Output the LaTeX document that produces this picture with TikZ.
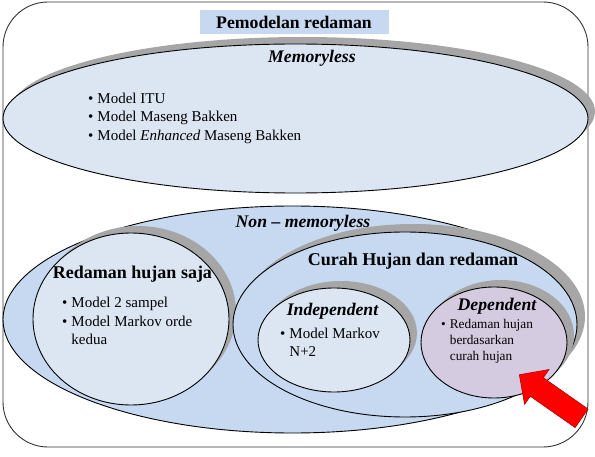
\documentclass[tikz,border=0pt]{standalone}
\usepackage{fontspec}
\setmainfont{Liberation Serif}
\usetikzlibrary{shapes.geometric, shapes.arrows, shadows, positioning}
\definecolor{memfill}{HTML}{DCE6F2}
\definecolor{nonfill}{HTML}{C6D9F1}
\definecolor{depfill}{HTML}{D5CBE0}
\definecolor{shadegray}{HTML}{A6A6A6}
\definecolor{arrowred}{HTML}{FF0000}
\definecolor{arrowedge}{HTML}{B00000}

\begin{document}
\begin{tikzpicture}[x=1pt, y=1pt,
  outerframe/.style={rectangle, draw=black!80, line width=0.9pt, rounded corners=45pt, minimum width=585pt, minimum height=445pt, inner sep=0pt},
  titlebox/.style={rectangle, fill=nonfill, minimum width=189pt, minimum height=24pt, inner sep=0pt, font=\fontsize{17.7}{20}\selectfont\bfseries},
  region/.style={ellipse, draw=black, line width=0.9pt, inner sep=0pt},
  castshadow/.style={drop shadow={shadow xshift=#1, shadow yshift=#1, fill=shadegray, opacity=1}},
  castshadow/.default=7pt,
  boldhead/.style={inner sep=0pt, font=\fontsize{18}{20}\selectfont\bfseries},
  italichead/.style={inner sep=0pt, font=\fontsize{17.7}{20}\selectfont\bfseries\itshape},
  itemtext/.style={inner sep=0pt, align=left, anchor=west, font=\fontsize{15}{18.5}\selectfont},
  smalltext/.style={inner sep=0pt, align=left, anchor=west, font=\fontsize{13.3}{16}\selectfont},
  redarrow/.style={single arrow, fill=arrowred, draw=arrowedge, line width=0.6pt, inner sep=0pt, minimum height=76pt, single arrow head extend=10pt}
]
  \useasboundingbox (0,0) rectangle (595,456);

  \node[outerframe] (frame) at (295.5,231.5) {};
  \node[titlebox] (title) at (294,434) {Pemodelan redaman};

  \node[region, castshadow, fill=memfill, minimum width=585pt, minimum height=149pt] (mem) at (295.5,337.5) {};
  \node[italichead] (memlabel) at (312,398) {Memoryless};
  \node[itemtext] (memitems) at (88,338) {\textbullet\hspace{4pt}Model ITU\\ \textbullet\hspace{4pt}Model Maseng Bakken\\ \textbullet\hspace{4pt}Model \textit{Enhanced} Maseng Bakken};

  \node[region, fill=nonfill, minimum width=579pt, minimum height=227pt] (nonmem) at (292.5,136.5) {};
  \node[italichead] (nonmemlabel) at (303,233) {Non – memoryless};

  \node[region, castshadow, fill=memfill, minimum width=196pt, minimum height=172pt] (rainonly) at (131,137) {};
  \node[boldhead] (rainonlylabel) at (132.5,182) {Redaman hujan saja};
  \node[itemtext] (rainonlyitems) at (62,135) {\textbullet\hspace{4pt}Model 2 sampel\\ \textbullet\hspace{4pt}Model Markov orde\\ \phantom{\textbullet}\hspace{4pt}kedua};

  \node[region, castshadow=8pt, fill=nonfill, minimum width=344pt, minimum height=185pt] (rainatt) at (405,131.5) {};
  \node[boldhead] (rainattlabel) at (413,195) {Curah Hujan dan redaman};

  \node[region, castshadow, fill=memfill, minimum width=152pt, minimum height=104pt] (indep) at (334,116) {};
  \node[italichead] (indeplabel) at (332.5,145) {Independent};
  \node[itemtext] (indepitems) at (280,113.5) {\textbullet\hspace{4pt}Model Markov\\ \phantom{\textbullet}\hspace{4pt}N+2};

  \node[region, castshadow, fill=depfill, minimum width=146pt, minimum height=111pt] (dep) at (494,113.5) {};
  \node[italichead] (deplabel) at (497,150) {Dependent};
  \node[smalltext] (depitems) at (441,115) {\textbullet\hspace{4pt}Redaman hujan\\ \phantom{\textbullet}\hspace{4pt}berdasarkan\\ \phantom{\textbullet}\hspace{4pt}curah hujan};

  \node[redarrow, rotate=145, anchor=tip] (hint) at ([xshift=25pt, yshift=-32pt]dep.center) {\rule{0pt}{22pt}};
\end{tikzpicture}
\end{document}
